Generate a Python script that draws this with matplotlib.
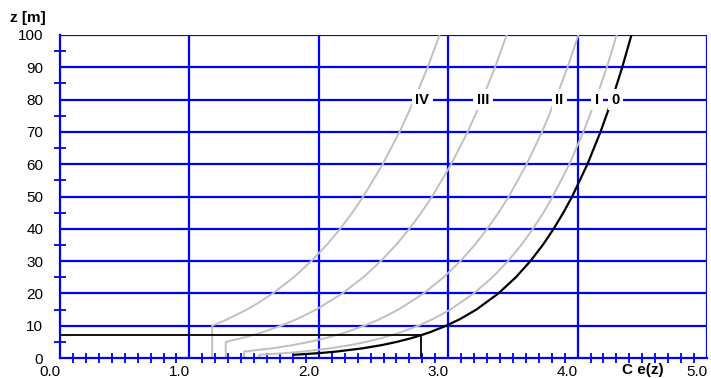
import matplotlib
matplotlib.use("Agg")
import matplotlib.pyplot as plt
import matplotlib.transforms as mtransforms
import numpy as np

# ====== Data ======
# heights z [m] and exposure coefficient Ce(z) per terrain category
z_0 = [1, 1.5, 2, 3, 4, 5, 6, 7, 8, 10, 12, 15, 20, 25, 30, 35, 40, 45, 50,
       60, 70, 80, 90, 100]
ce_0 = [1.812, 2.000, 2.138, 2.339, 2.487, 2.604, 2.702, 2.786, 2.860, 2.985,
        3.089, 3.218, 3.388, 3.523, 3.635, 3.731, 3.815, 3.890, 3.958,
        4.076, 4.177, 4.266, 4.345, 4.416]

z_1 = [0, 1, 1.5, 2, 3, 4, 5, 6, 7, 8, 10, 12, 15, 20, 25, 30, 35, 40, 45, 50,
       60, 70, 80, 90, 100]
ce_1 = [1.540, 1.540, 1.734, 1.878, 2.088, 2.243, 2.367, 2.470, 2.558, 2.636,
        2.769, 2.879, 3.017, 3.198, 3.342, 3.462, 3.565, 3.655, 3.736, 3.808,
        3.936, 4.045, 4.140, 4.226, 4.302]

z_2 = [0, 2, 3, 4, 5, 6, 7, 8, 10, 12, 15, 20, 25, 30, 35, 40, 45, 50,
       60, 70, 80, 90, 100]
ce_2 = [1.423, 1.423, 1.640, 1.801, 1.929, 2.037, 2.130, 2.212, 2.352, 2.469,
        2.616, 2.810, 2.965, 3.094, 3.205, 3.302, 3.389, 3.468,
        3.606, 3.725, 3.829, 3.922, 4.006]

z_3 = [0, 5, 6, 7, 8, 10, 12, 15, 20, 25, 30, 35, 40, 45, 50,
       60, 70, 80, 90, 100]
ce_3 = [1.281, 1.281, 1.389, 1.483, 1.566, 1.709, 1.829, 1.981, 2.182, 2.344,
        2.479, 2.597, 2.700, 2.792, 2.876, 3.023, 3.150, 3.262, 3.362, 3.452]

z_4 = [0, 10, 12, 15, 17, 20, 25, 30, 35, 40, 45, 50, 60, 70, 80, 90, 100]
ce_4 = [1.176, 1.176, 1.294, 1.444, 1.530, 1.644, 1.807, 1.942, 2.061, 2.165,
        2.259, 2.344, 2.494, 2.624, 2.739, 2.841, 2.934]

# example point marked on the terrain 0 curve
z_mark = 7
ce_mark = 2.786

cat_labels = ["IV", "III", "II", "I", "0"]
cat_label_x = [2.80, 3.27, 3.86, 4.15, 4.29]
cat_label_z = 80

x_ticks = [0, 1, 2, 3, 4, 5]
x_ticklabels = ["0.0", "1.0", "2.0", "3.0", "4.0", "5.0"]
y_ticks = list(range(0, 101, 10))

BLUE = "#0000ff"
GREY = "#c0c0c0"

plt.rcParams["font.family"] = ["Liberation Sans", "DejaVu Sans"]

fig = plt.figure(figsize=(7.11, 3.78), dpi=100)
ax = fig.add_axes([60 / 711, 20 / 378, 647 / 711, 323 / 378])

# grid lines (blue)
for zz in y_ticks[1:]:
    ax.axhline(zz, color=BLUE, lw=1.6, zorder=1)
for xx in x_ticks[1:]:
    ax.axvline(xx, color=BLUE, lw=1.6, zorder=1)

# curves for terrain categories
for zs, cs in [(z_4, ce_4), (z_3, ce_3), (z_2, ce_2), (z_1, ce_1)]:
    ax.plot(cs, zs, color=GREY, lw=1.4, zorder=2)
ax.plot(ce_0, z_0, color="black", lw=1.6, zorder=3)

# marked point
ax.plot([0, ce_mark], [z_mark, z_mark], color="black", lw=1.3, zorder=3)
ax.plot([ce_mark, ce_mark], [0, z_mark], color="black", lw=1.3, zorder=3)

for lab, xx in zip(cat_labels, cat_label_x):
    ax.text(xx, cat_label_z, lab, ha="center", va="center", fontsize=10.5,
            fontweight="bold", zorder=5,
            bbox=dict(facecolor="white", edgecolor="none", pad=2.5))

ax.set_xlim(0, 5)
ax.set_ylim(0, 100)

for side in ["top", "right"]:
    ax.spines[side].set_visible(False)
for side in ["left", "bottom"]:
    ax.spines[side].set_color(BLUE)
    ax.spines[side].set_linewidth(1.6)

ax.set_xticks(x_ticks)
ax.set_xticklabels(x_ticklabels, fontsize=11)
ax.set_xticks(np.arange(0, 5.01, 0.1), minor=True)
ax.set_yticks(y_ticks)
ax.set_yticklabels([str(v) for v in y_ticks], fontsize=11)
ax.set_yticks(np.arange(5, 100, 10), minor=True)

ax.tick_params(axis="x", which="major", length=0, pad=5)
ax.tick_params(axis="x", which="minor", direction="inout", length=7,
               width=1.3, color=BLUE)
ax.tick_params(axis="y", which="major", length=0, pad=12)
ax.tick_params(axis="y", which="minor", direction="inout", length=9,
               width=1.3, color=BLUE)

# x labels sit a bit left of their grid line
shift = mtransforms.ScaledTranslation(-10 / 100, 0, fig.dpi_scale_trans)
for lbl in ax.get_xticklabels():
    lbl.set_transform(lbl.get_transform() + shift)

fig.text(10 / 711, 1 - 18 / 378, "z [m]", fontsize=11, fontweight="bold",
         ha="left", va="center")
fig.text(643 / 711, 1 - 370 / 378, "C e(z)", fontsize=11, fontweight="bold",
         ha="center", va="center")

fig.savefig("out.png", dpi=100)
